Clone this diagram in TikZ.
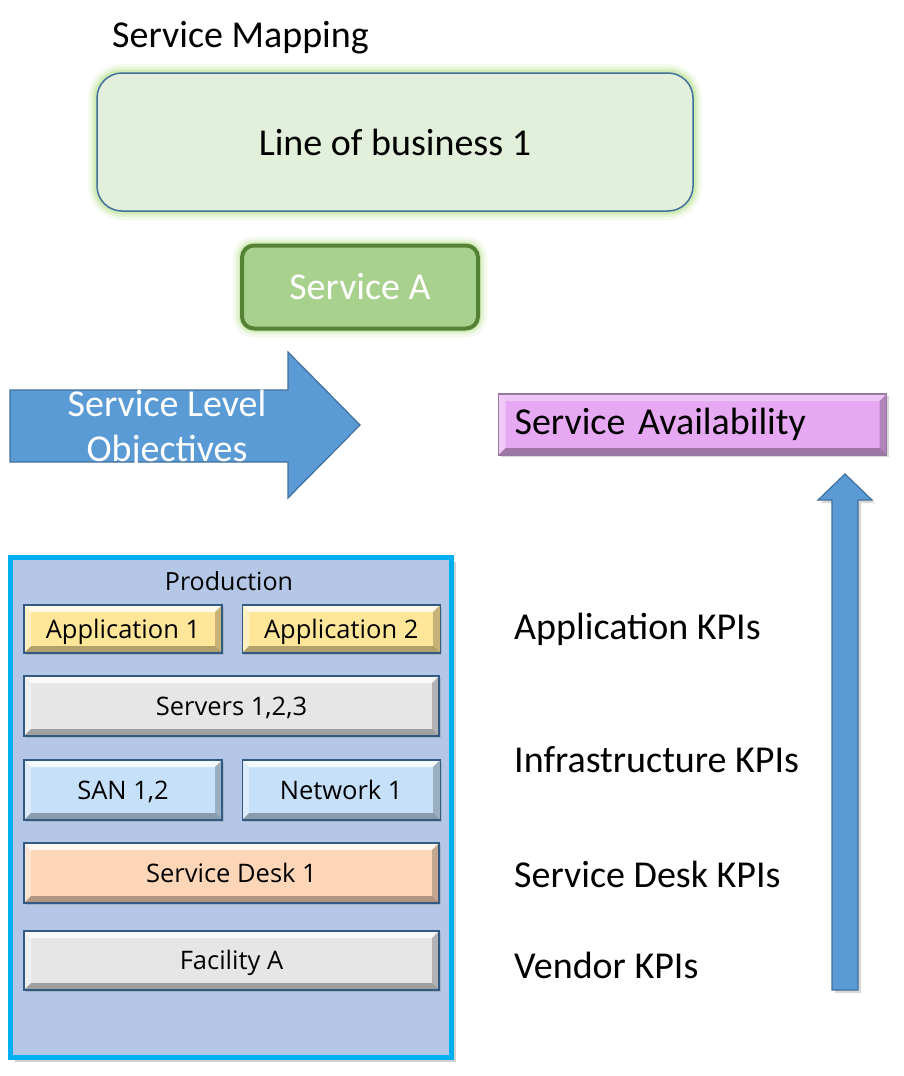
\documentclass[tikz,border=0pt]{standalone}
\usepackage{fontspec}
\setmainfont{Carlito}
\newfontfamily\tilefont{Open Sans}
\usepackage{tikz}
\usetikzlibrary{positioning,shadows}

\definecolor{lobfill}{RGB}{226,239,218}
\definecolor{lobedge}{RGB}{65,113,156}
\definecolor{glowgreen}{RGB}{170,220,120}
\definecolor{svcfill}{RGB}{169,209,142}
\definecolor{svcedge}{RGB}{84,130,53}
\definecolor{arrowblue}{RGB}{91,155,213}
\definecolor{arrowedge}{RGB}{65,113,156}
\definecolor{availfill}{RGB}{230,168,242}
\definecolor{availedge}{RGB}{150,120,160}
\definecolor{prodfill}{RGB}{180,199,231}
\definecolor{prodedge}{RGB}{0,176,240}
\definecolor{appfill}{RGB}{255,230,153}
\definecolor{greyfill}{RGB}{231,230,230}
\definecolor{sanfill}{RGB}{197,224,248}
\definecolor{deskfill}{RGB}{253,213,183}
\definecolor{tileedge}{RGB}{50,90,130}

\tikzset{
  bevel/.style={path picture={
    \coordinate (nw) at (path picture bounding box.north west);
    \coordinate (ne) at (path picture bounding box.north east);
    \coordinate (sw) at (path picture bounding box.south west);
    \coordinate (se) at (path picture bounding box.south east);
    \fill[white,opacity=#1] (nw) -- (ne) -- ([shift={(-7pt,-7pt)}]ne) -- ([shift={(7pt,-7pt)}]nw) -- cycle;
    \fill[white,opacity=.4] (nw) -- (sw) -- ([shift={(7pt,7pt)}]sw) -- ([shift={(7pt,-7pt)}]nw) -- cycle;
    \fill[black,opacity=.3] (sw) -- (se) -- ([shift={(-7pt,7pt)}]se) -- ([shift={(7pt,7pt)}]sw) -- cycle;
    \fill[black,opacity=.22] (ne) -- (se) -- ([shift={(-7pt,7pt)}]se) -- ([shift={(-7pt,-7pt)}]ne) -- cycle;
  }},
  bevel/.default=.8
}

\begin{document}
\begin{tikzpicture}[
  x=1pt, y=-1pt,
  big/.style={font=\fontsize{38}{45}\selectfont},
  kpi/.style={big, anchor=west, inner sep=0pt},
  glow/.style={preaction={draw=glowgreen, line width=18pt, opacity=.12},
               preaction={draw=glowgreen, line width=12pt, opacity=.2},
               preaction={draw=glowgreen, line width=7pt, opacity=.35}},
  tile/.style={draw=tileedge, line width=1.2pt, inner sep=0pt, minimum width=198pt, minimum height=60pt,
               font=\tilefont\fontsize{25.5}{28}\selectfont, text height=18pt, text depth=0pt, bevel,
               drop shadow={shadow xshift=2pt, shadow yshift=-2pt, opacity=.3}},
  wide/.style={tile, minimum width=415pt},
  arr/.style={fill=arrowblue, draw=arrowedge, line width=1.2pt, line join=miter}
]
\useasboundingbox[fill=white] (0,0) rectangle (904,1076);

% top: mapping
\node[big, anchor=west, inner sep=0pt] (title) at (112,38) {Service Mapping};
\node[big, glow, draw=lobedge, line width=1.5pt, fill=lobfill, rounded corners=25pt,
      minimum width=596pt, minimum height=138pt] (lob) at (395,142) {Line of business 1};
\node[big, glow, draw=svcedge, line width=4pt, fill=svcfill, rounded corners=12pt, text=white,
      minimum width=236pt, minimum height=83pt] (svca) at (360,287) {Service A};

% objectives arrow
\draw[arr] (10,390) -- (288,390) -- (288,352) -- (360,425) -- (288,498) -- (288,462) -- (10,462) -- cycle;
\node[big, text=white, align=center, inner sep=0pt] (slo) at (167,429) {Service Level\\Objectives};

% availability
\node[big, anchor=west, draw=availedge, line width=1.2pt, fill=availfill, bevel=.35, align=left,
      text width=356pt, inner xsep=16pt, inner ysep=0pt, minimum height=61pt,
      drop shadow={shadow xshift=2pt, shadow yshift=-2pt, opacity=.3}] (avail) at (498,424.5) {Service Availability};
\draw[arr, drop shadow={shadow xshift=3pt, shadow yshift=-3pt, opacity=.3}]
  (832,990) -- (832,500) -- (818,500) -- (845,474) -- (872,500) -- (858,500) -- (858,990) -- cycle;

% production stack
\node[draw=prodedge, line width=5pt, fill=prodfill, minimum width=441pt, minimum height=500pt,
      drop shadow={shadow xshift=4pt, shadow yshift=-4pt, opacity=.35}] (prod) at (231,807.5) {};
\node[font=\tilefont\fontsize{25}{28}\selectfont, inner sep=0pt] (prodlbl) at (229,581) {Production};
\node[tile, fill=appfill, minimum height=48pt] (app1) at (123,629) {Application 1};
\node[tile, fill=appfill, minimum height=48pt, right=19pt of app1] (app2) {Application 2};
\node[wide, fill=greyfill] (srv) at (231.5,706) {Servers 1,2,3};
\node[tile, fill=sanfill] (san) at (123,790) {SAN 1,2};
\node[tile, fill=sanfill, right=19pt of san] (net) {Network 1};
\node[wide, fill=deskfill] (desk) at (231.5,873) {Service Desk 1};
\node[wide, fill=greyfill, minimum height=59pt] (fac) at (231.5,960.5) {Facility A};

% kpi labels
\node[kpi] (appkpi) at (514,629) {Application KPIs};
\node[kpi] (infkpi) at (514,760) {Infrastructure KPIs};
\node[kpi] (deskkpi) at (514,874) {Service Desk KPIs};
\node[kpi] (venkpi) at (514,965) {Vendor KPIs};
\end{tikzpicture}
\end{document}
